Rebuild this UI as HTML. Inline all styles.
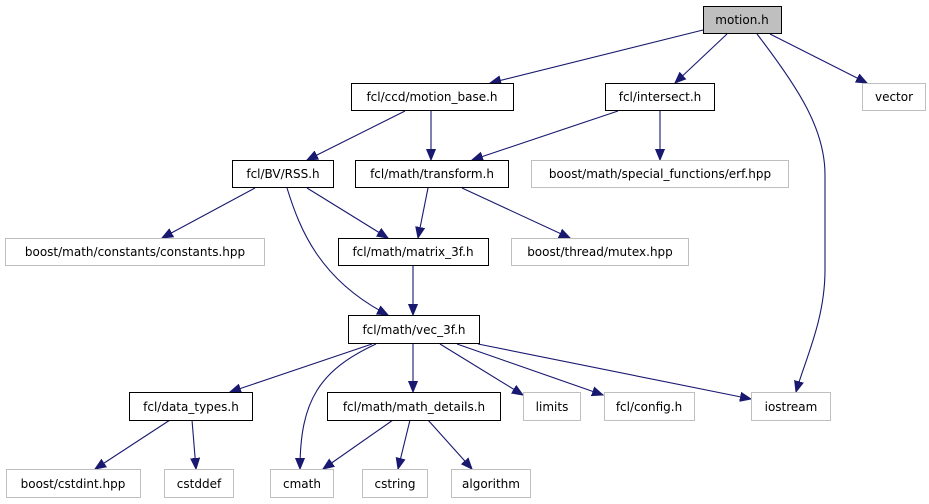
<!DOCTYPE html>
<html><head><meta charset="utf-8"><style>
html,body{margin:0;padding:0;background:#fff;}
svg{display:block;}
text{font-family:"DejaVu Sans","Liberation Sans",sans-serif;font-size:12px;fill:#000;text-anchor:middle;}
.b{fill:#fff;stroke:#000;stroke-width:1;}
.g{fill:#fff;stroke:#bfbfbf;stroke-width:1;}
.e{fill:none;stroke:#191970;stroke-width:1.1;marker-end:url(#a);}
</style></head><body>
<svg width="929" height="504" viewBox="0 0 929 504" xmlns="http://www.w3.org/2000/svg">
<defs><marker id="a" markerUnits="userSpaceOnUse" markerWidth="12" markerHeight="10" refX="11" refY="5" orient="auto"><path d="M0,0.5 L11,5 L0,9.5 Z" fill="#191970" stroke="#191970"/></marker></defs>
<g>
<path class="e" d="M703,30 L490,83"/>
<path class="e" d="M727,34 L675,83"/>
<path class="e" d="M757,34 C800,90 825,130 825,175 L825,270 C825,320 805,360 796,392"/>
<path class="e" d="M770,34 L867,83"/>
<path class="e" d="M405,111 L307,160"/>
<path class="e" d="M431,111 L431,160"/>
<path class="e" d="M618,111 L472,160"/>
<path class="e" d="M660,111 L660,160"/>
<path class="e" d="M255,188 L162,238"/>
<path class="e" d="M307,188 L388,238"/>
<path class="e" d="M287,188 C300,230 320,280 388,315"/>
<path class="e" d="M428,188 L418,238"/>
<path class="e" d="M462,188 L570,238"/>
<path class="e" d="M413,266 L413,315"/>
<path class="e" d="M372,344 L230,392"/>
<path class="e" d="M376,344 C320,370 300,400 300,469"/>
<path class="e" d="M413,344 L413,392"/>
<path class="e" d="M440,344 L523,395"/>
<path class="e" d="M457,344 L603,395"/>
<path class="e" d="M478,344 L751,399"/>
<path class="e" d="M170,420 L95,469"/>
<path class="e" d="M192,420 L196,469"/>
<path class="e" d="M393,420 L323,469"/>
<path class="e" d="M410,420 L398,469"/>
<path class="e" d="M428,420 L472,469"/>
</g>
<rect x="703.5" y="6.5" width="78" height="27" fill="#bfbfbf" stroke="#000"/><text x="742" y="24">motion.h</text>
<rect class="b" x="351.5" y="83.5" width="162" height="27"/><text x="432" y="101">fcl/ccd/motion_base.h</text>
<rect class="b" x="605.5" y="83.5" width="109" height="27"/><text x="660" y="101">fcl/intersect.h</text>
<rect class="g" x="862.5" y="83.5" width="63" height="27"/><text x="894" y="101">vector</text>
<rect class="b" x="232.5" y="160.5" width="101" height="27"/><text x="283" y="178">fcl/BV/RSS.h</text>
<rect class="b" x="355.5" y="160.5" width="153" height="27"/><text x="432" y="178">fcl/math/transform.h</text>
<rect class="g" x="531.5" y="160.5" width="257" height="27"/><text x="660" y="178">boost/math/special_functions/erf.hpp</text>
<rect class="g" x="5.5" y="238.5" width="259" height="27"/><text x="135" y="256">boost/math/constants/constants.hpp</text>
<rect class="b" x="338.5" y="238.5" width="150" height="27"/><text x="413" y="256">fcl/math/matrix_3f.h</text>
<rect class="g" x="511.5" y="238.5" width="177" height="27"/><text x="600" y="256">boost/thread/mutex.hpp</text>
<rect class="b" x="348.5" y="315.5" width="131" height="28"/><text x="414" y="334">fcl/math/vec_3f.h</text>
<rect class="b" x="129.5" y="392.5" width="123" height="28"/><text x="191" y="411">fcl/data_types.h</text>
<rect class="b" x="327.5" y="392.5" width="173" height="28"/><text x="414" y="411">fcl/math/math_details.h</text>
<rect class="g" x="523.5" y="392.5" width="57" height="28"/><text x="552" y="411">limits</text>
<rect class="g" x="604.5" y="392.5" width="90" height="28"/><text x="649" y="411">fcl/config.h</text>
<rect class="g" x="751.5" y="392.5" width="79" height="28"/><text x="791" y="411">iostream</text>
<rect class="g" x="6.5" y="469.5" width="134" height="28"/><text x="73" y="488">boost/cstdint.hpp</text>
<rect class="g" x="164.5" y="469.5" width="69" height="28"/><text x="199" y="488">cstddef</text>
<rect class="g" x="270.5" y="469.5" width="63" height="28"/><text x="302" y="488">cmath</text>
<rect class="g" x="362.5" y="469.5" width="65" height="28"/><text x="395" y="488">cstring</text>
<rect class="g" x="451.5" y="469.5" width="79" height="28"/><text x="491" y="488">algorithm</text>
</svg>
</body></html>
